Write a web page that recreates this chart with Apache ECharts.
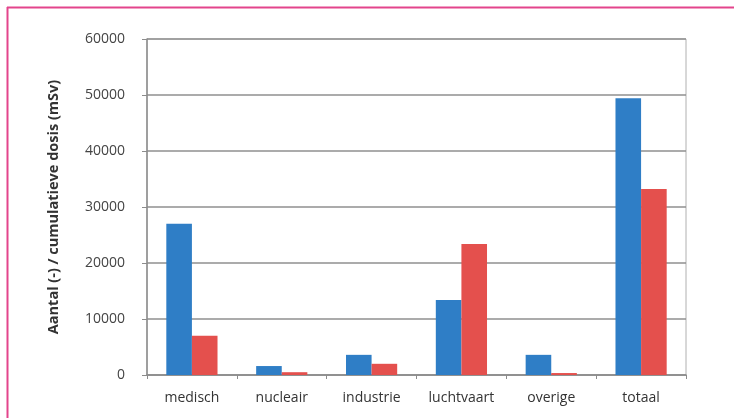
<!DOCTYPE html>
<html>
<head>
<meta charset="utf-8">
<script src="https://cdn.jsdelivr.net/npm/echarts@6/dist/echarts.min.js"></script>
<style>
  html, body { margin: 0; padding: 0; background: #fff; }
  #main { width: 734px; height: 418px; }
</style>
</head>
<body>
<div id="main"></div>
<script>
const categories = ['medisch', 'nucleair', 'industrie', 'luchtvaart', 'overige', 'totaal'];
const aantal = [27000, 1600, 3600, 13400, 3600, 49400];
const dosis = [7000, 500, 2000, 23400, 350, 33200];
const yTicks = [0, 10000, 20000, 30000, 40000, 50000, 60000];

var chartDom = document.getElementById('main');
var myChart = echarts.init(chartDom);

var option = {
  animation: false,
  textStyle: { fontFamily: 'Open Sans' },
  graphic: [
    // pink frame, top and left edges only
    { type: 'line', shape: { x1: 7, y1: 7.5, x2: 734, y2: 7.5 }, style: { stroke: '#e3458c', lineWidth: 2 } },
    { type: 'line', shape: { x1: 7.5, y1: 7, x2: 7.5, y2: 418 }, style: { stroke: '#e3458c', lineWidth: 2 } }
  ],
  grid: {
    left: 147, right: 48, top: 39, bottom: 43,
    show: true, borderColor: '#b0b0b0', borderWidth: 1
  },
  xAxis: {
    type: 'category',
    data: categories,
    axisLine: { lineStyle: { color: '#8c8c8c', width: 1.5 } },
    axisTick: { show: true, length: 4, lineStyle: { color: '#8c8c8c' } },
    axisLabel: { color: '#333', fontSize: 14, margin: 16 }
  },
  yAxis: {
    type: 'value',
    min: yTicks[0],
    max: yTicks[yTicks.length - 1],
    interval: 10000,
    name: 'Aantal (-) / cumulatieve dosis (mSv)',
    nameLocation: 'middle',
    nameGap: 86,
    nameTextStyle: { color: '#333', fontSize: 14.5, fontWeight: 'bold' },
    axisLine: { show: true, lineStyle: { color: '#8c8c8c', width: 1.5 } },
    axisTick: { show: true, length: 5, lineStyle: { color: '#8c8c8c' } },
    axisLabel: { color: '#444', fontSize: 14, margin: 22, formatter: v => String(v) },
    splitLine: { lineStyle: { color: '#8f8f8f', width: 1.5 } }
  },
  series: [
    {
      type: 'bar',
      data: aantal,
      barGap: '0%',
      barCategoryGap: '43%',
      itemStyle: { color: '#2f7ec6' }
    },
    {
      type: 'bar',
      data: dosis,
      itemStyle: { color: '#e4504d' }
    }
  ]
};

option && myChart.setOption(option);
</script>
</body>
</html>
